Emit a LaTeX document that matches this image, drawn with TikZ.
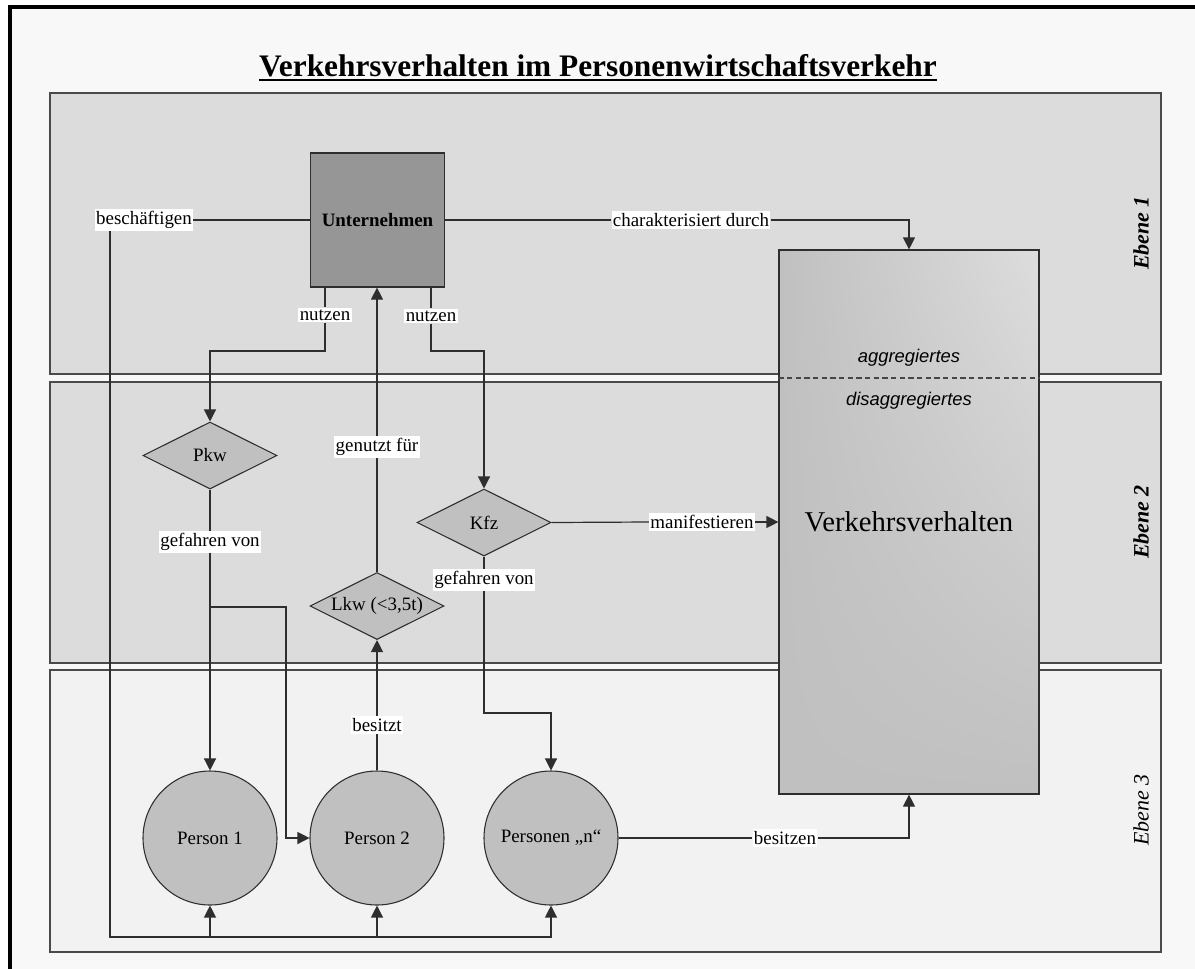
\documentclass[tikz,border=0pt]{standalone}
\usepackage{fontspec}
\setmainfont{Liberation Serif}
\newfontfamily\arialfont{Liberation Sans}
\usetikzlibrary{shapes.geometric,arrows.meta,shadings}

\definecolor{framebg}{HTML}{F8F8F8}
\definecolor{panelA}{HTML}{DCDCDC}
\definecolor{panelC}{HTML}{F2F2F2}
\definecolor{panelline}{HTML}{4A4A4A}
\definecolor{boxdark}{HTML}{969696}
\definecolor{shapefill}{HTML}{C0C0C0}
\definecolor{vvlight}{HTML}{DDDDDD}
\definecolor{wire}{HTML}{2E2E2E}

\newcommand\pxu{0.75pt}

\begin{document}
\begin{tikzpicture}[x=0.75pt,y=-0.75pt,
  lbltext/.style={font=\fontsize{14.2}{16}\selectfont},
  lbl/.style={lbltext,fill=white,inner xsep=1pt,inner ysep=1.4pt},
  wireline/.style={draw=wire,line width=0.9pt},
  arr/.style={wireline,-{Triangle[length=9pt,width=9pt]}},
  panel/.style={draw=panelline,line width=1.1pt},
  firmbox/.style={draw=wire,line width=0.9pt,fill=boxdark,
    minimum width=134*\pxu,minimum height=134*\pxu,inner sep=0pt,
    font=\fontsize{14.2}{16}\selectfont\bfseries},
  vehicle/.style={diamond,aspect=2,draw=wire,line width=0.8pt,fill=shapefill,
    minimum width=134*\pxu,minimum height=67*\pxu,inner sep=0pt,lbltext},
  person/.style={circle,draw=wire,line width=0.8pt,fill=shapefill,
    minimum size=134*\pxu,inner sep=0pt,lbltext},
  vvbox/.style={draw=wire,line width=0.9pt,shade,shading=bilinear interpolation,
    lower left=shapefill,lower right=shapefill,upper left=shapefill,upper right=vvlight,
    minimum width=260*\pxu,minimum height=544*\pxu,inner sep=0pt,
    font=\fontsize{21.5}{24}\selectfont},
  aggtext/.style={font=\arialfont\itshape\fontsize{13.8}{16}\selectfont},
  levelone/.style={rotate=90,font=\fontsize{16.5}{18}\selectfont\bfseries\itshape},
  levelthree/.style={rotate=90,font=\fontsize{16.5}{18}\selectfont\itshape}
]
\useasboundingbox (0,0) rectangle (1195,968);
\clip (0,0) rectangle (1195,968);
\fill[white] (0,0) rectangle (1195,968);

% outer frame
\draw[line width=2.3pt,fill=framebg] (10,7) rectangle (1215,990);

% title
\node[inner sep=0pt,anchor=base,font=\fontsize{23.5}{26}\selectfont\bfseries] (title) at (598,76)
  {Verkehrsverhalten im Personenwirtschaftsverkehr};
\draw[line width=1.6pt] ([yshift=-3pt]title.base west) -- ([yshift=-3pt]title.base east);

% level panels
\filldraw[panel,fill=panelA] (50,93) rectangle (1161,374);
\filldraw[panel,fill=panelA] (50,382) rectangle (1161,663);
\filldraw[panel,fill=panelC] (50,670) rectangle (1161,952);

\node[levelone] (e1) at (1141,233) {Ebene 1};
\node[levelone] (e2) at (1141,522) {Ebene 2};
\node[levelthree] (e3) at (1141,810) {Ebene 3};

% main nodes
\node[firmbox] (unt) at (377.5,220) {Unternehmen};
\node[vvbox] (vv) at (909,522) {Verkehrsverhalten};
\node[vehicle] (pkw) at (210,455.5) {Pkw};
\node[vehicle] (lkw) at (377,606) {Lkw (<3,5t)};
\node[vehicle] (kfz) at (484,522.5) {Kfz};
\node[person] (p1) at (210,838) {Person 1};
\node[person] (p2) at (377,838) {Person 2};
\node[person] (pn) at (551,838) {Personen „n“};

% aggregation split inside the behaviour box
\coordinate (dl) at (909,378);
\draw[dashed,draw=gray!55!black,line width=0.8pt,dash pattern=on 4pt off 2.5pt]
  (vv.west |- dl) -- (vv.east |- dl);
\node[aggtext] (agg) at (909,358) {aggregiertes};
\node[aggtext] (disagg) at (909,401) {disaggregiertes};

% connector labels
\node[lbl] (besch) at (144,220) {beschäftigen};
\node[lbl] (char) at (691,220) {charakterisiert durch};
\node[lbl] (nutzL) at (325,315) {nutzen};
\node[lbl] (nutzR) at (431,316) {nutzen};
\node[lbl] (genutzt) at (377,447) {genutzt für};
\node[lbl] (gefL) at (210,542) {gefahren von};
\node[lbl] (gefR) at (484,580) {gefahren von};
\node[lbl] (manif) at (702,522) {manifestieren};
\node[lbl] (besitzt) at (377,725) {besitzt};
\node[lbl] (besitzen) at (785,838) {besitzen};

% bend points
\coordinate (jl) at (325,351);
\coordinate (jr) at (431,351);
\coordinate (jp) at (210,607);
\coordinate (jq) at (286,607);
\coordinate (jk) at (484,713);
\coordinate (bl) at (110,937);

% connectors
\draw[wireline] (unt.west) -- (besch.east);
\draw[arr] (besch.south -| bl) -- (bl) -| (pn.south);
\draw[arr] (p1.south |- bl) -- (p1.south);
\draw[arr] (p2.south |- bl) -- (p2.south);

\draw[wireline] (unt.east) -- (char.west);
\draw[arr] (char.east) -| (vv.north);

\draw[wireline] (unt.south -| nutzL) -- (nutzL.north);
\draw[arr] (nutzL.south) -- (jl) -| (pkw.north);
\draw[wireline] (unt.south -| nutzR) -- (nutzR.north);
\draw[arr] (nutzR.south) -- (jr) -| (kfz.north);

\draw[wireline] (lkw.north) -- (genutzt.south);
\draw[arr] (genutzt.north) -- (unt.south -| genutzt);

\draw[wireline] (pkw.south) -- (gefL.north);
\draw[arr] (gefL.south) -- (jp) -- (p1.north);
\draw[arr] (jp) -- (jq) |- (p2.west);

\draw[wireline] (kfz.south) -- (gefR.north);
\draw[arr] (gefR.south) -- (jk) -| (pn.north);

\draw[wireline] (kfz.east) -- (manif.west);
\draw[arr] (manif.east) -- (vv.west |- manif);

\draw[wireline] (p2.north) -- (besitzt.south);
\draw[arr] (besitzt.north) -- (lkw.south);

\draw[wireline] (pn.east) -- (besitzen.west);
\draw[arr] (besitzen.east) -| (vv.south);
\end{tikzpicture}
\end{document}
